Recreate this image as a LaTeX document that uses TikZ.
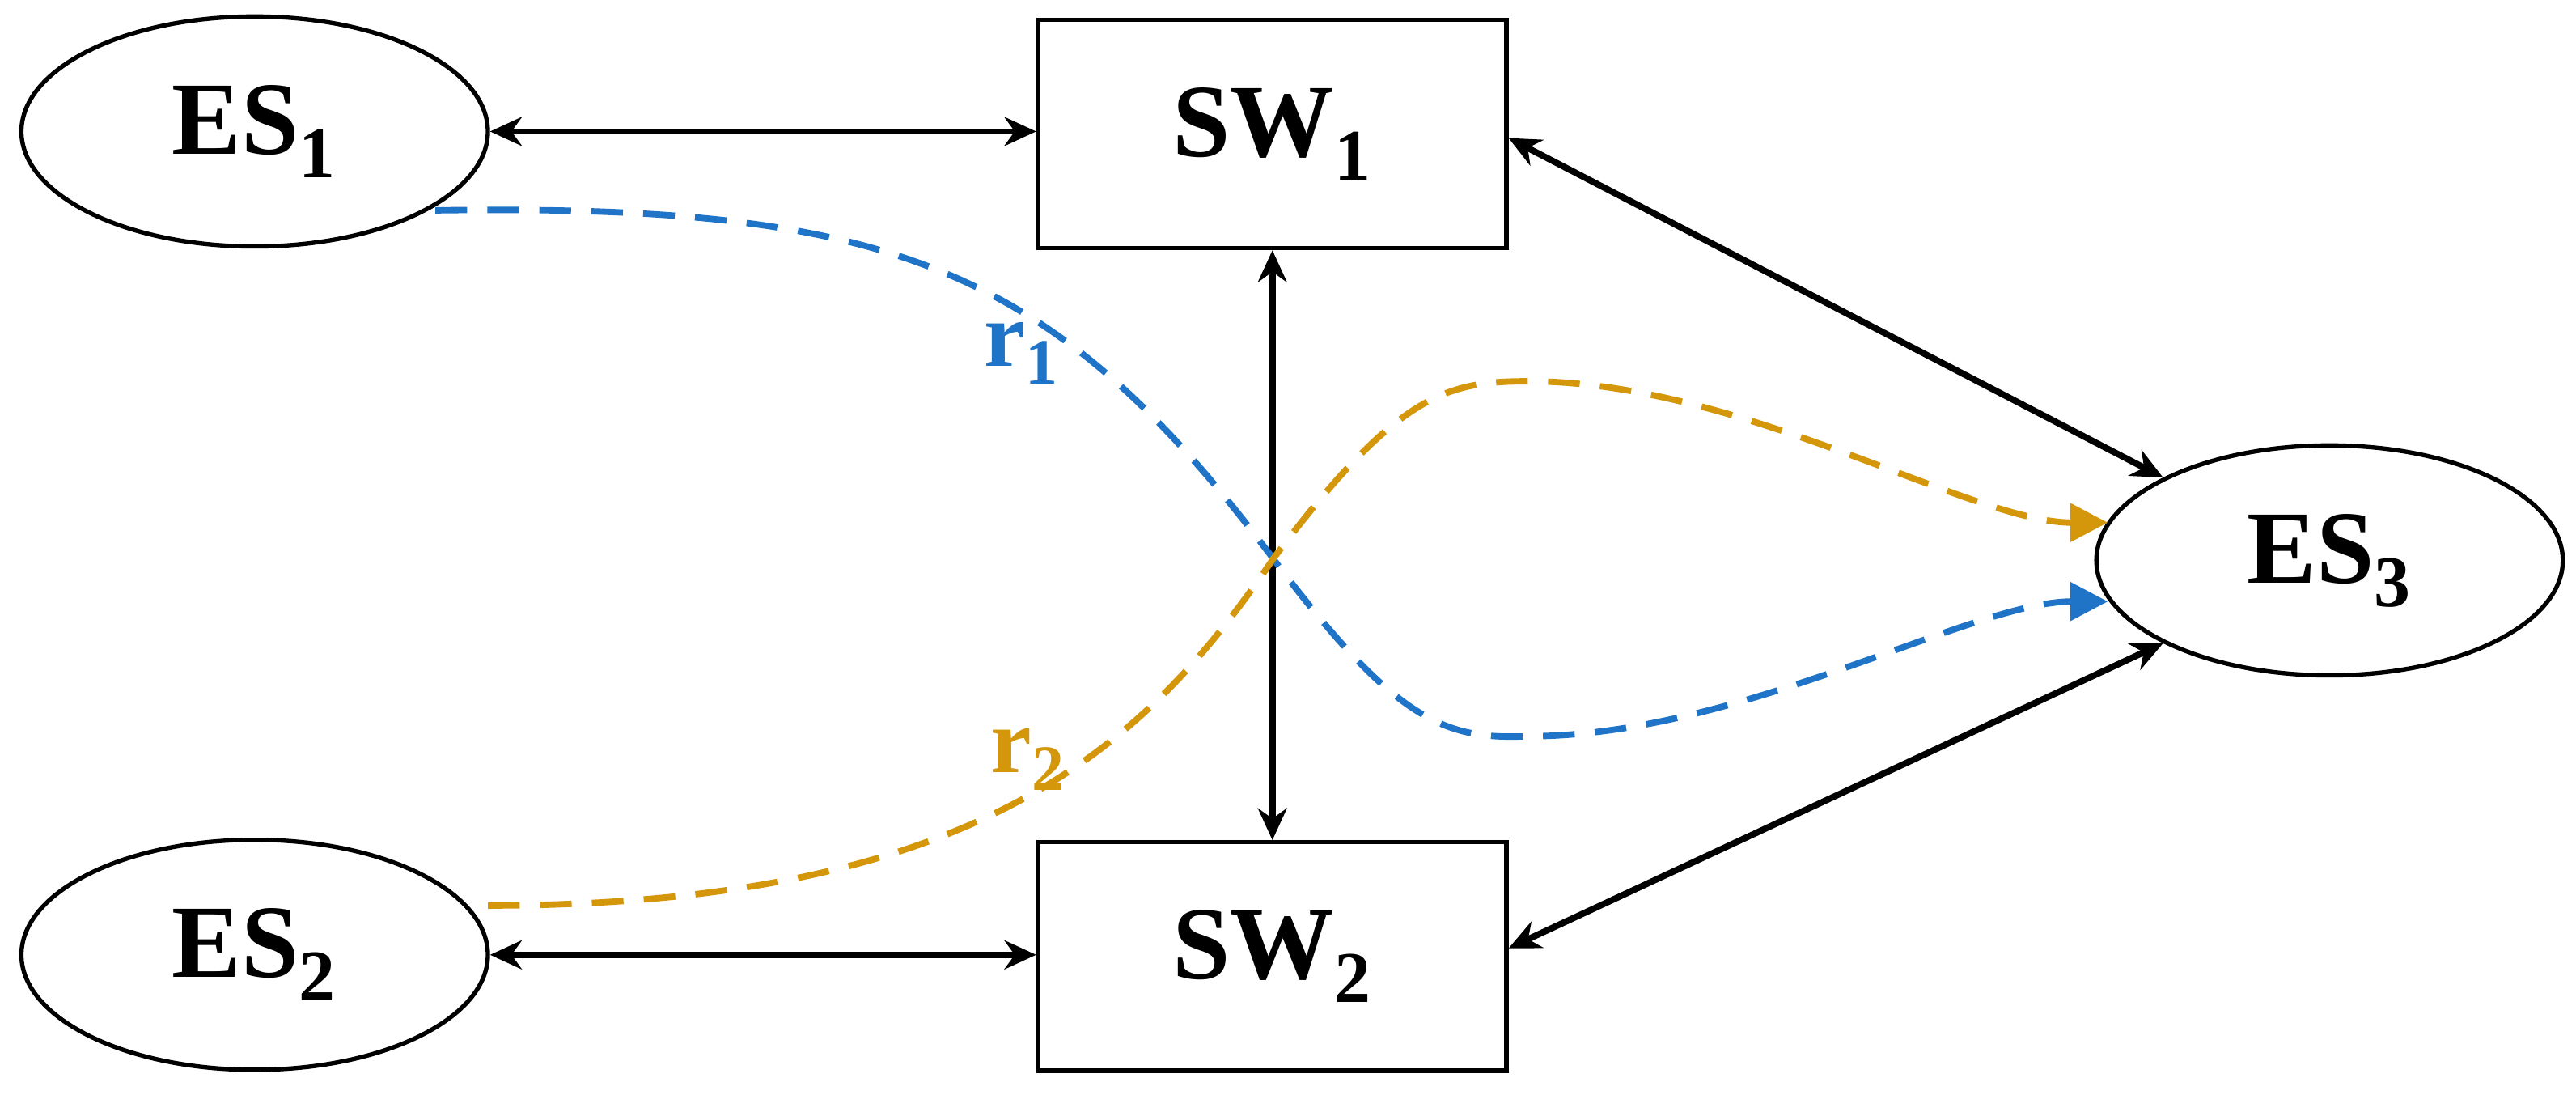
\documentclass[tikz,border=0pt]{standalone}
\usepackage{fontspec}
\setmainfont{Liberation Serif}
\usetikzlibrary{shapes.geometric,arrows.meta}
\definecolor{cblue}{HTML}{1F74C8}
\definecolor{corange}{HTML}{D4960A}
\begin{document}
\begin{tikzpicture}[x=0.02cm,y=-0.02cm,
  es/.style={ellipse,draw,line width=1.5pt,minimum width=5.68cm,minimum height=2.8cm,font=\fontsize{36}{42}\selectfont\bfseries},
  sw/.style={rectangle,draw,line width=1.5pt,minimum width=5.7cm,minimum height=2.78cm,font=\fontsize{36}{42}\selectfont\bfseries},
  link/.style={line width=2.2pt,{Stealth[length=11pt,width=10pt]}-{Stealth[length=11pt,width=10pt]}},
  route/.style={dashed,dash pattern=on 11pt off 7pt,line width=2.2pt,-{Triangle[length=13pt,width=13pt]}},
  lab/.style={font=\fontsize{32}{38}\selectfont\bfseries}]
\useasboundingbox (0,0) rectangle (1568,666);
\node[es] (es1) at (155,80) {ES\textsubscript{1}};
\node[es] (es2) at (155,581) {ES\textsubscript{2}};
\node[es] (es3) at (1418,341) {ES\textsubscript{3}};
\node[sw] (sw1) at (774.5,81.5) {SW\textsubscript{1}};
\node[sw] (sw2) at (774.5,582) {SW\textsubscript{2}};
\coordinate (x) at (775,340);
\draw[link] (es1.east) -- (sw1.west |- es1.east);
\draw[link] (es2.east) -- (sw2.west |- es2.east);
\draw[link] (sw1.south) -- (sw2.north);
\draw[link] (sw1.east |- 0,84) -- (es3.north west);
\draw[link] (sw2.east |- 0,577) -- (es3.south west);
\draw[route,cblue] (265,128) .. controls (540,124) and (640,160) .. (x)
  .. controls (850,440) and (880,450) .. (930,448)
  .. controls (1060,448) and (1200,366) .. (1283,366);
\draw[route,corange] (297,551) .. controls (600,551) and (700,450) .. (x)
  .. controls (850,240) and (880,232) .. (930,232)
  .. controls (1060,232) and (1200,318) .. (1283,318);
\node[lab,text=cblue] (r1) at (622,215) {r\textsubscript{1}};
\node[lab,text=corange] (r2) at (626,462) {r\textsubscript{2}};
\end{tikzpicture}
\end{document}
